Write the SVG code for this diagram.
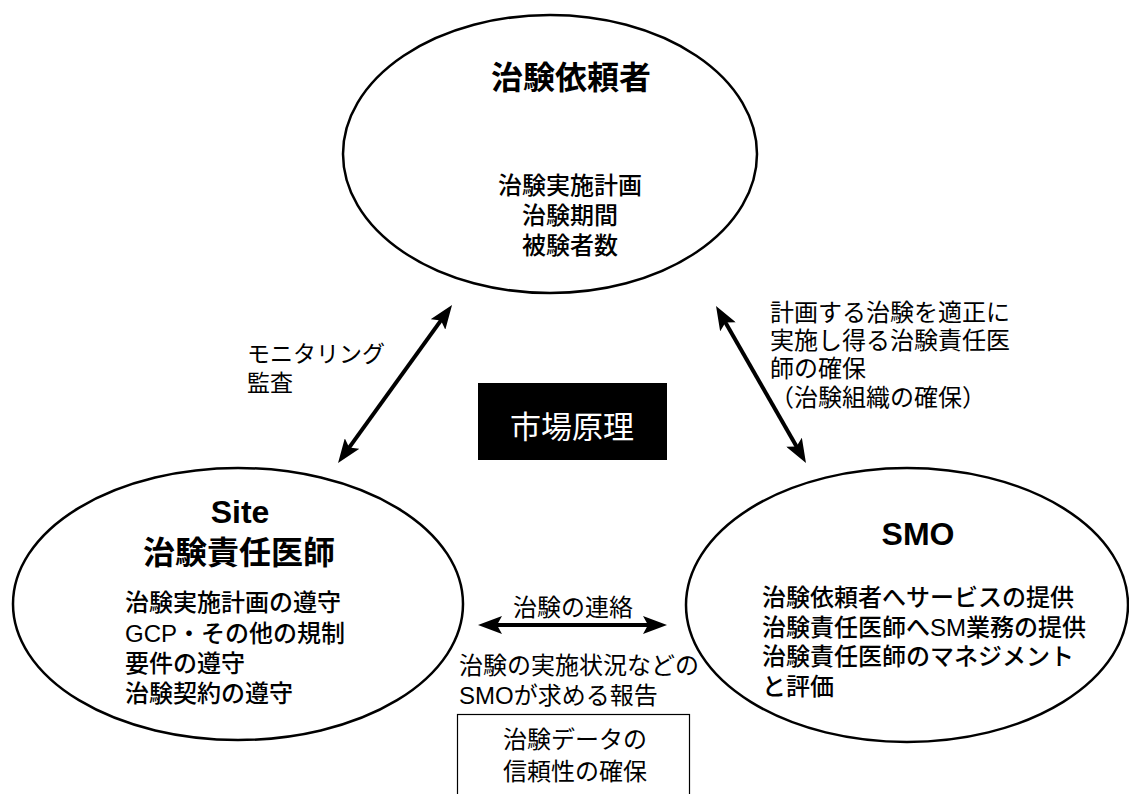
<svg xmlns="http://www.w3.org/2000/svg" width="1129" height="794" viewBox="0 0 1129 794">
<style>
.ell{fill:#fff;stroke:#000;stroke-width:2.5}
.t{font-family:"Liberation Sans","Noto Sans CJK JP",sans-serif;fill:#000}
.title{font-weight:bold}
.body{font-size:24px}
.heavy{font-weight:500}
.lab{font-size:23px}
.conn{stroke:#000;stroke-width:4;fill:none}
</style>
<defs>
<marker id="ah" viewBox="0 0 24 18" refX="14" refY="9" markerWidth="24" markerHeight="18" markerUnits="userSpaceOnUse" orient="auto-start-reverse">
<path d="M0,0 L24,9 L0,18 L5,9 z" fill="#000"/>
</marker>
</defs>
<rect width="1129" height="794" fill="#fff"/>

<g id="sponsor">
<ellipse class="ell" cx="550" cy="154" rx="207" ry="139"/>
<text class="t title" x="571" y="89" font-size="32" text-anchor="middle">治験依頼者</text>
<text class="t body heavy" text-anchor="middle"><tspan x="570" y="194">治験実施計画</tspan><tspan x="570" y="224">治験期間</tspan><tspan x="570" y="254">被験者数</tspan></text>
</g>

<g id="site">
<ellipse class="ell" cx="238" cy="604" rx="225" ry="136"/>
<text class="t title" x="240" y="523" font-size="32" text-anchor="middle">Site</text>
<text class="t title" x="239" y="564" font-size="32" text-anchor="middle">治験責任医師</text>
<text class="t body heavy"><tspan x="125" y="611">治験実施計画の遵守</tspan><tspan x="125" y="642">GCP・その他の規制</tspan><tspan x="125" y="672">要件の遵守</tspan><tspan x="125" y="702">治験契約の遵守</tspan></text>
</g>

<g id="smo">
<ellipse class="ell" cx="907" cy="605" rx="221" ry="137"/>
<text class="t title" x="918" y="545" font-size="32" text-anchor="middle">SMO</text>
<text class="t body heavy"><tspan x="762" y="606">治験依頼者へサービスの提供</tspan><tspan x="762" y="636">治験責任医師へSM業務の提供</tspan><tspan x="762" y="665">治験責任医師のマネジメント</tspan><tspan x="762" y="695">と評価</tspan></text>
</g>

<g id="market">
<rect x="478" y="383" width="189" height="77" fill="#000"/>
<text class="t" x="572" y="438" font-size="31" style="fill:#fff" text-anchor="middle">市場原理</text>
</g>

<g id="databox">
<rect x="457.5" y="714.5" width="232" height="90" fill="#fff" stroke="#000" stroke-width="1.2"/>
<text class="t body" text-anchor="middle"><tspan x="575" y="748">治験データの</tspan><tspan x="575" y="780">信頼性の確保</tspan></text>
</g>

<g id="connectors">
<line class="conn" x1="446.2" y1="313.1" x2="343.9" y2="454.9" marker-start="url(#ah)" marker-end="url(#ah)"/>
<line class="conn" x1="721" y1="314.7" x2="801" y2="454.3" marker-start="url(#ah)" marker-end="url(#ah)"/>
<line class="conn" x1="488" y1="625" x2="657" y2="625" marker-start="url(#ah)" marker-end="url(#ah)"/>
</g>

<g id="labels">
<text class="t lab"><tspan x="247" y="362">モニタリング</tspan><tspan x="247" y="391">監査</tspan></text>
<text class="t body"><tspan x="770" y="321">計画する治験を適正に</tspan><tspan x="770" y="349">実施し得る治験責任医</tspan><tspan x="770" y="377">師の確保</tspan><tspan x="770" y="406">（治験組織の確保）</tspan></text>
<text class="t body" x="573" y="616" text-anchor="middle">治験の連絡</text>
<text class="t body"><tspan x="459" y="674">治験の実施状況などの</tspan><tspan x="459" y="704">SMOが求める報告</tspan></text>
</g>
</svg>
